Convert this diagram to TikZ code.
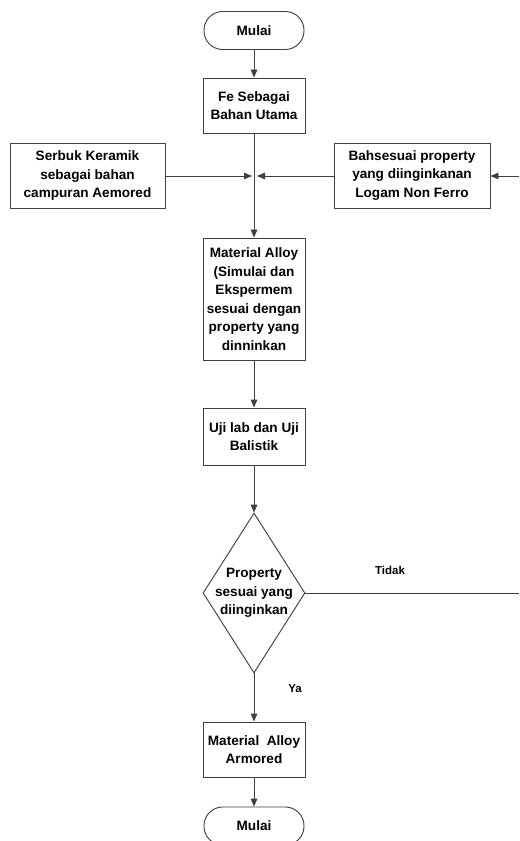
\documentclass[tikz,border=0pt]{standalone}
\usepackage{fontspec}
\setmainfont{Liberation Sans}
\usetikzlibrary{arrows.meta,shapes.geometric}
\tikzset{
  ln/.style={draw=black!75, line width=0.7pt},
  arr/.style={ln, -{Triangle[length=6pt,width=5pt]}},
  box/.style={ln, rectangle, fill=white, align=center, inner sep=1pt,
    font=\bfseries\fontsize{10.2pt}{13.9pt}\selectfont},
  term/.style={box, rounded corners=14pt, minimum width=75pt, minimum height=28.5pt},
  lbl/.style={font=\bfseries\fontsize{8.6pt}{10pt}\selectfont, inner sep=0pt}
}
\begin{document}
\begin{tikzpicture}[x=0.75pt,y=-0.75pt]
\useasboundingbox (0,0) rectangle (519,841);
\clip (0,0) rectangle (519,841);
\fill[white] (0,0) rectangle (519,841);

\node[term] (start) at (254,30.5) {Mulai};
\node[box, minimum width=76.5pt, minimum height=41.25pt] (fe) at (254,105.5) {Fe Sebagai\\Bahan Utama};
\node[box, minimum width=116.25pt, minimum height=48.75pt] (serbuk) at (87.5,175.5) {Serbuk Keramik\\sebagai bahan\\campuran Aemored};
\node[box, minimum width=117pt, minimum height=48.75pt] (bahs) at (412,175.5) {Bahsesuai property\\yang diinginkanan\\Logam Non Ferro};
\node[box, minimum width=76.5pt, minimum height=91.5pt] (mat) at (254,299) {Material Alloy\\(Simulai dan\\Ekspermem\\sesuai dengan\\property yang\\dinninkan};
\node[box, minimum width=76.5pt, minimum height=42.75pt] (uji) at (254,436.5) {Uji lab dan Uji\\Balistik};
\node[ln, diamond, minimum width=76.5pt, minimum height=120pt, inner sep=0pt] (dec) at (254,593) {};
\node[box, draw=none, fill=none] (dectxt) at (dec.center) {Property\\sesuai yang\\diinginkan};
\node[box, minimum width=76.5pt, minimum height=41.25pt] (arm) at (254,749.5) {Material~ Alloy\\Armored};
\node[term] (end) at (254,826) {Mulai};

\node[lbl] (tidak) at (390,570) {Tidak};
\node[lbl] (ya) at (295,689) {Ya};

\coordinate (jl) at (252,176);
\coordinate (jr) at (257,176);
\coordinate (rin) at (519,176);
\coordinate (rout) at (519,593);

\draw[arr] (start.south) -- (fe.north);
\draw[arr] (fe.south) -- (mat.north);
\draw[arr] (serbuk.east |- jl) -- (jl);
\draw[arr] (bahs.west |- jr) -- (jr);
\draw[arr] (rin) -- (bahs.east |- rin);
\draw[arr] (mat.south) -- (uji.north);
\draw[arr] (uji.south) -- (dec.north);
\draw[ln] (dec.east) -- (rout);
\draw[arr] (dec.south) -- (arm.north);
\draw[arr] (arm.south) -- (end.north);
\end{tikzpicture}
\end{document}
